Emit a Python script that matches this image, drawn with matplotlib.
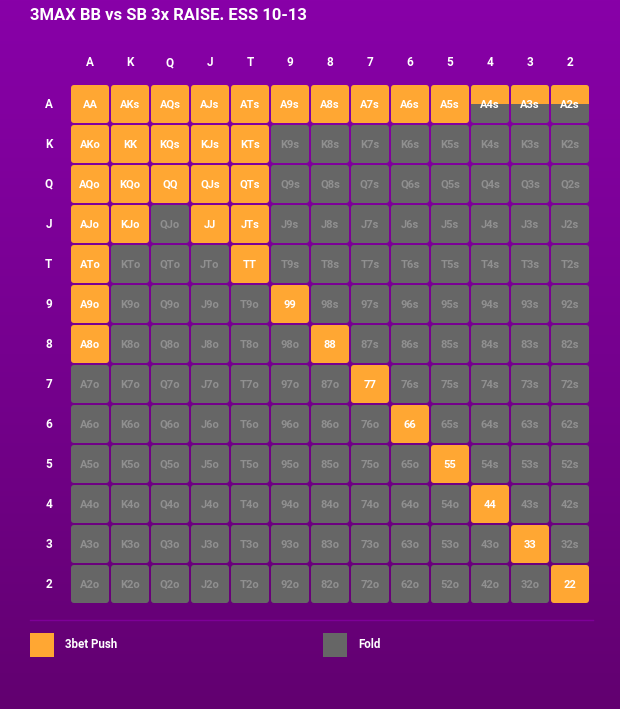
import matplotlib
matplotlib.use("Agg")
import matplotlib.pyplot as plt
import numpy as np
from matplotlib.patches import FancyBboxPatch, Rectangle
from matplotlib.colors import LinearSegmentedColormap

plt.rcParams['font.family'] = ['Roboto', 'DejaVu Sans']

title = "3MAX BB vs SB 3x RAISE. ESS 10-13"
ranks = ["A", "K", "Q", "J", "T", "9", "8", "7", "6", "5", "4", "3", "2"]
# push frequency per cell (row = first rank, col = second rank)
push_freq = [
    [1, 1, 1, 1, 1, 1, 1, 1, 1, 1, 0.49, 0.49, 0.49],
    [1, 1, 1, 1, 1, 0, 0, 0, 0, 0, 0, 0, 0],
    [1, 1, 1, 1, 1, 0, 0, 0, 0, 0, 0, 0, 0],
    [1, 1, 0, 1, 1, 0, 0, 0, 0, 0, 0, 0, 0],
    [1, 0, 0, 0, 1, 0, 0, 0, 0, 0, 0, 0, 0],
    [1, 0, 0, 0, 0, 1, 0, 0, 0, 0, 0, 0, 0],
    [1, 0, 0, 0, 0, 0, 1, 0, 0, 0, 0, 0, 0],
    [0, 0, 0, 0, 0, 0, 0, 1, 0, 0, 0, 0, 0],
    [0, 0, 0, 0, 0, 0, 0, 0, 1, 0, 0, 0, 0],
    [0, 0, 0, 0, 0, 0, 0, 0, 0, 1, 0, 0, 0],
    [0, 0, 0, 0, 0, 0, 0, 0, 0, 0, 1, 0, 0],
    [0, 0, 0, 0, 0, 0, 0, 0, 0, 0, 0, 1, 0],
    [0, 0, 0, 0, 0, 0, 0, 0, 0, 0, 0, 0, 1],
]
legend_labels = ["3bet Push", "Fold"]

ORANGE = "#ffa733"
GRAY = "#666666"
GRAY_TXT = "#909090"

W, H = 620, 709
fig = plt.figure(figsize=(W / 100, H / 100), dpi=100)

# background gradient
bg = fig.add_axes([0, 0, 1, 1])
cmap = LinearSegmentedColormap.from_list("bg", ["#8800a8", "#76008f", "#620070"])
grad = np.linspace(0, 1, 256).reshape(-1, 1)
bg.imshow(grad, aspect="auto", cmap=cmap, extent=[0, 1, 0, 1], origin="upper")
bg.set_xlim(0, 1)
bg.set_ylim(0, 1)
bg.axis("off")

fig.text(30 / W, 1 - 16 / H, title, color="white", fontsize=12,
         fontweight="bold", ha="left", va="center")

# grid axes
gx0, gy0, gsz = 70, 84, 520
ax = fig.add_axes([gx0 / W, 1 - (gy0 + gsz) / H, gsz / W, gsz / H])
ax.set_xlim(-0.5, 12.5)
ax.set_ylim(12.5, -0.5)
ax.axis("off")
ax.patch.set_alpha(0)

cw = 0.95
rs = 0.08
for r in range(13):
    for c in range(13):
        if r == c:
            label = ranks[r] + ranks[c]
        elif c > r:
            label = ranks[r] + ranks[c] + "s"
        else:
            label = ranks[c] + ranks[r] + "o"
        f = push_freq[r][c]
        x0, y0 = c - cw / 2, r - cw / 2
        base = FancyBboxPatch((x0, y0), cw, cw,
                              boxstyle=f"round,pad=0,rounding_size={rs}",
                              fc=ORANGE if f >= 1 else GRAY, ec="none")
        ax.add_patch(base)
        if 0 < f < 1:
            part = Rectangle((x0, y0), cw, cw * f, fc=ORANGE, ec="none")
            ax.add_patch(part)
            part.set_clip_path(base)
        tc = "white" if f > 0 else GRAY_TXT
        ax.text(c, r + 0.02, label, ha="center", va="center", color=tc,
                fontsize=8, fontweight="bold")

for i, rk in enumerate(ranks):
    ax.text(i, -1.03, rk, ha="center", va="center", color="white",
            fontsize=8.5, fontweight="bold", clip_on=False)
    ax.text(-1.03, i, rk, ha="center", va="center", color="white",
            fontsize=8.5, fontweight="bold", clip_on=False)

# separator + legend
bg.plot([30 / W, 593 / W], [1 - 620 / H, 1 - 620 / H], color="#7e0098", lw=1)
for k, (lab, col) in enumerate(zip(legend_labels, [ORANGE, GRAY])):
    lx = [30, 323][k]
    bg.add_patch(Rectangle((lx / W, 1 - 657 / H), 24 / W, 24 / H, fc=col, ec="none"))
    bg.text((lx + 35) / W, 1 - 645 / H, lab, color="white", fontsize=8.3,
            fontweight="bold", ha="left", va="center")

fig.savefig("out.png", dpi=100)
